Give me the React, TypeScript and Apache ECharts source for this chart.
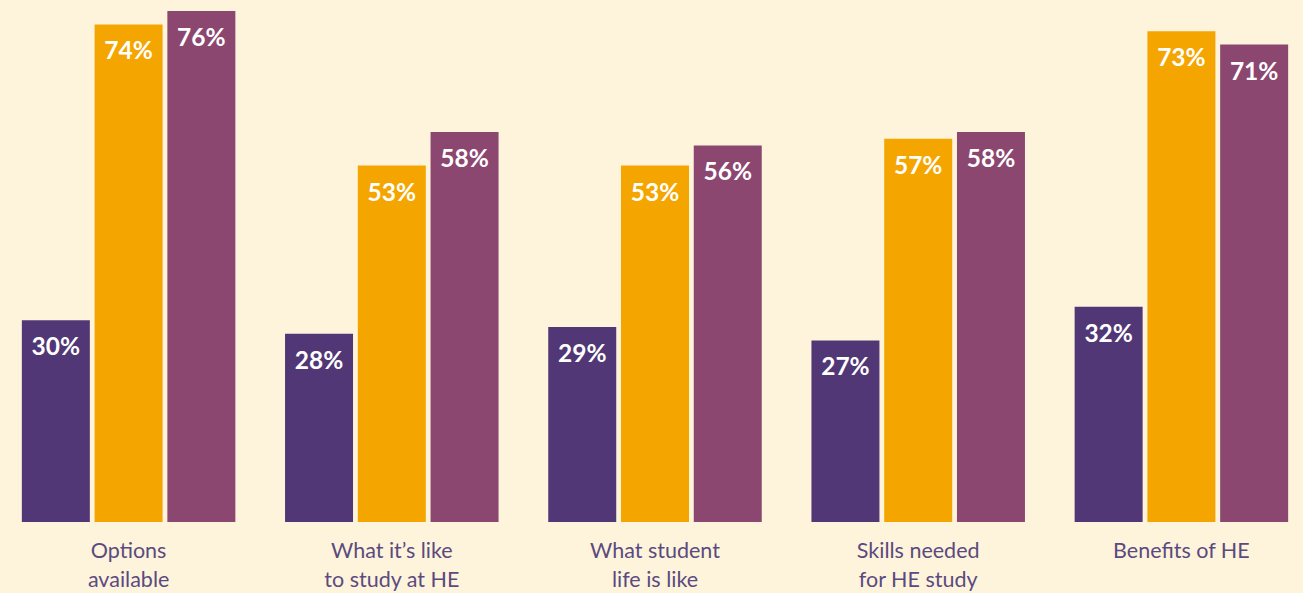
import React, { useEffect, useRef } from "react";
import * as echarts from "echarts";

const categories = [
  "Options\navailable",
  "What it’s like\nto study at HE",
  "What student\nlife is like",
  "Skills needed\nfor HE study",
  "Benefits of HE",
];
const seriesA = [30, 28, 29, 27, 32];
const seriesB = [74, 53, 53, 57, 73];
const seriesC = [76, 58, 56, 58, 71];
const seriesNames = ["Group A", "Group B", "Group C"];
const colors = ["#513775", "#f5a500", "#8c4770"];

export default function App() {
  const ref = useRef<HTMLDivElement>(null);
  useEffect(() => {
    if (!ref.current) return;
    const chart = echarts.init(ref.current, null, { renderer: "svg" });
    const label = {
      show: true,
      position: "insideTop",
      distance: 13,
      color: "#ffffff",
      fontFamily: "Lato",
      fontWeight: "bold",
      fontSize: 24.5,
      formatter: "{c}%",
    };
    const data = [seriesA, seriesB, seriesC];
    chart.setOption({
      animation: false,
      backgroundColor: "#fef4dc",
      grid: { left: 0, right: 0, top: 0, bottom: 70, containLabel: false },
      xAxis: {
        type: "category",
        data: categories,
        axisLine: { show: false },
        axisTick: { show: false },
        axisLabel: {
          color: "#5b4a7f",
          fontFamily: "Lato",
          fontSize: 21.5,
          lineHeight: 29,
          margin: 13,
          interval: 0,
        },
      },
      yAxis: {
        type: "value",
        min: 0,
        max: 77.63,
        show: false,
        splitLine: { show: false },
      },
      series: data.map((d, i) => ({
        name: seriesNames[i],
        type: "bar",
        data: d,
        barWidth: 68,
        barGap: "7%",
        itemStyle: { color: colors[i] },
        label,
      })),
    });
    return () => chart.dispose();
  }, []);
  return (
    <div
      style={{
        position: "absolute",
        left: 0,
        top: 0,
        width: 1303,
        height: 593,
        overflow: "hidden",
        background: "#fef4dc",
      }}
    >
      <div
        ref={ref}
        style={{ position: "absolute", left: -3, top: 0, width: 1316, height: 593 }}
      />
    </div>
  );
}
